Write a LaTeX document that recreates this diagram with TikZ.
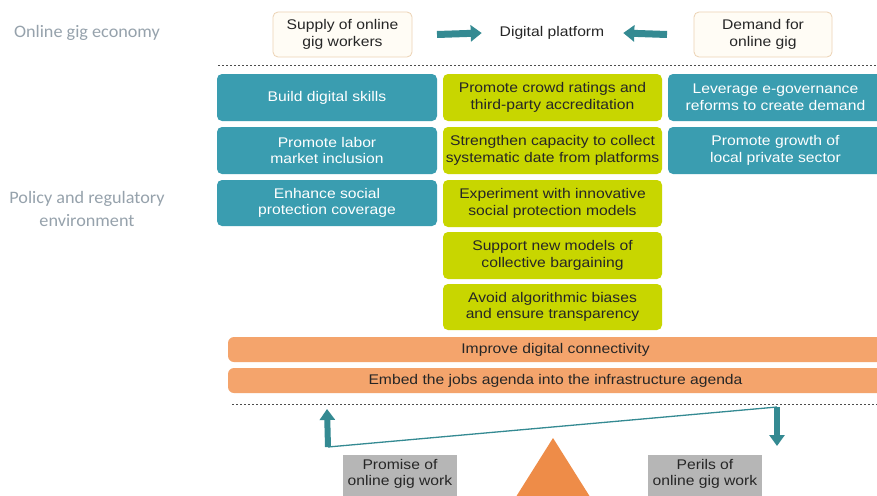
\documentclass[tikz,border=0pt]{standalone}
\usepackage{fontspec}
\setmainfont{Liberation Sans}[FakeStretch=1.12]
\newfontfamily\sidefont{Carlito}[FakeStretch=1.04]
\usetikzlibrary{arrows.meta}
\definecolor{tealbox}{RGB}{58,157,176}
\definecolor{limebox}{RGB}{200,214,0}
\definecolor{orangebar}{RGB}{244,164,108}
\definecolor{orangetri}{RGB}{238,140,72}
\definecolor{greybox}{RGB}{182,182,182}
\definecolor{arrowteal}{RGB}{52,138,146}
\definecolor{sidegrey}{RGB}{150,162,172}
\definecolor{creamfill}{RGB}{255,252,245}
\definecolor{creamline}{RGB}{236,210,180}
\begin{document}
\begin{tikzpicture}[x=1pt,y=-1pt,
  every node/.style={inner sep=0pt,outer sep=0pt},
  txt/.style={font=\fontsize{14}{16.5}\selectfont},
  cell/.style={txt,rounded corners=5pt,align=center},
  tealcell/.style={cell,fill=tealbox,text=white},
  limecell/.style={cell,fill=limebox,text=black!85},
  barcell/.style={cell,rounded corners=6pt,fill=orangebar,text=black!85},
  topbox/.style={cell,fill=creamfill,draw=creamline,line width=0.8pt,text=black!85},
  greycell/.style={fill=greybox},
  sidelabel/.style={align=center,text=sidegrey,font=\sidefont\fontsize{17.5}{22.5}\selectfont},
  fatarrow/.style={draw=arrowteal,line width=7pt,-{Triangle[length=11pt,width=16pt]}},
  tiparrow/.style={draw=arrowteal,line width=6pt,-{Triangle[length=11pt,width=15pt]}},
  divider/.style={black!70,line width=1pt,dash pattern=on 2pt off 2pt}]
% canvas
\useasboundingbox[fill=white] (0,0) rectangle (877,495);

% side captions
\node[sidelabel] (lblecon) at (87,33) {Online gig economy};
\node[sidelabel] (lblpolicy) at (87,209) {Policy and regulatory\\environment};

% online gig economy row
\node[topbox,minimum width=139pt,minimum height=45pt] (supply) at (342.5,34.5) {Supply of online\\gig workers};
\node[txt,text=black!85] (platform) at (552,33) {Digital platform};
\node[topbox,minimum width=138pt,minimum height=45pt] (demand) at (763,34.5) {Demand for\\online gig};
\draw[fatarrow] ([xshift=25pt]supply.east) -- ([xshift=-18pt]platform.west);
\draw[fatarrow] ([xshift=-27pt]demand.west) -- ([xshift=19pt]platform.east);

\draw[divider] (218,65) -- (877,65);

% policy grid: left column
\node[tealcell,minimum width=220pt,minimum height=47pt] (skills) at (327,97.5) {Build digital skills};
\node[tealcell,minimum width=220pt,minimum height=47pt] (labor) at (327,150.5) {Promote labor\\market inclusion};
\node[tealcell,minimum width=220pt,minimum height=46pt] (social) at (327,203) {Enhance social\\protection coverage};

% policy grid: middle column
\node[limecell,minimum width=219pt,minimum height=47pt] (ratings) at (552.5,97.5) {Promote crowd ratings and\\third-party accreditation};
\node[limecell,minimum width=219pt,minimum height=47pt] (capacity) at (552.5,150.5) {Strengthen capacity to collect\\systematic date from platforms};
\node[limecell,minimum width=219pt,minimum height=47pt] (experiment) at (552.5,203.5) {Experiment with innovative\\social protection models};
\node[limecell,minimum width=219pt,minimum height=47pt] (bargain) at (552.5,255.5) {Support new models of\\collective bargaining};
\node[limecell,minimum width=219pt,minimum height=46pt] (biases) at (552.5,307) {Avoid algorithmic biases\\and ensure transparency};

% policy grid: right column
\node[tealcell,minimum width=215pt,minimum height=47pt] (egov) at (775.5,97.5) {Leverage e-governance\\reforms to create demand};
\node[tealcell,minimum width=215pt,minimum height=47pt] (private) at (775.5,150.5) {Promote growth of\\local private sector};

% infrastructure bars
\node[barcell,minimum width=655pt,minimum height=25pt] (connect) at (555.5,349.5) {Improve digital connectivity};
\node[barcell,minimum width=655pt,minimum height=25pt] (embed) at (555.5,380.5) {Embed the jobs agenda into the infrastructure agenda};

\draw[divider] (232,404) -- (877,404);

% balance of promise and perils
\coordinate (beamL) at (328,447);
\coordinate (beamR) at (777,407);
\coordinate (upTip) at (327,409);
\coordinate (downTip) at (777,446);
\draw[arrowteal,line width=1.3pt] (beamL) -- (beamR);
\draw[tiparrow] (beamL) -- (upTip);
\draw[tiparrow] (beamR) -- (downTip);
\coordinate (apex) at (553,438);
\coordinate (baseL) at (514,500);
\coordinate (baseR) at (592,500);
\fill[orangetri] (apex) -- (baseR) -- (baseL) -- cycle;
\node[greycell,minimum width=114pt,minimum height=46pt,anchor=north west] (promise) at (343,455) {};
\node[txt,align=center,text=black!85] (promisetxt) at (400,474) {Promise of\\online gig work};
\node[greycell,minimum width=114pt,minimum height=46pt,anchor=north west] (perils) at (648,455) {};
\node[txt,align=center,text=black!85] (perilstxt) at (705,474) {Perils of\\online gig work};
\end{tikzpicture}
\end{document}
